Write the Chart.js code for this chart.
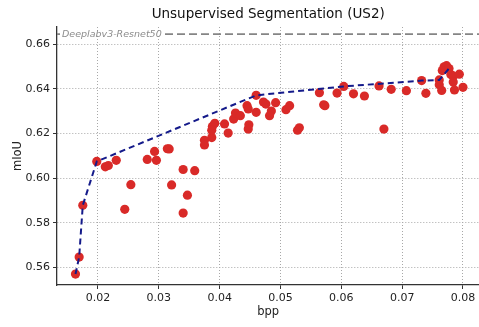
<!DOCTYPE html>
<html>
<head>
<meta charset="utf-8">
<script src="https://cdn.jsdelivr.net/npm/chart.js@4"></script>
<style>
    html, body { margin: 0; padding: 0; background: #fff; overflow: hidden; }
    #wrap { width: 479px; height: 327px; overflow: hidden; }
</style>
</head>
<body>
<!-- холст чуть шире окна: правый край области графика уходит к краю страницы -->
<div id="wrap"><canvas id="segChart" width="484" height="327"></canvas></div>
<script>
// Результаты сжатия: bpp против mIoU
const bpp = [
    0.0163, 0.0169, 0.0175, 0.0198, 0.0212, 0.0217, 0.0230, 0.0254, 0.0244, 0.0281,
    0.0293, 0.0296, 0.0314, 0.0317, 0.0340, 0.0359, 0.0321, 0.0347, 0.0340, 0.0375,
    0.0375, 0.0387, 0.0388, 0.0392, 0.0387, 0.0408, 0.0414, 0.0423, 0.0426, 0.0434,
    0.0445, 0.0447, 0.0448, 0.0447, 0.0460, 0.0460, 0.0472, 0.0476, 0.0485, 0.0482,
    0.0492, 0.0509, 0.0515, 0.0528, 0.0531, 0.0564, 0.0571, 0.0573, 0.0593, 0.0604,
    0.0620, 0.0638, 0.0662, 0.0682, 0.0670, 0.0707, 0.0732, 0.0739, 0.0761, 0.0761,
    0.0765, 0.0769, 0.0773, 0.0766, 0.0777, 0.0780, 0.0784, 0.0794, 0.0784, 0.0786,
    0.0800
];
const miou = [
    0.5571, 0.5647, 0.5879, 0.6075, 0.6051, 0.6057, 0.6080, 0.5971, 0.5861, 0.6084,
    0.6120, 0.6080, 0.6132, 0.6131, 0.6039, 0.6034, 0.5970, 0.5924, 0.5844, 0.6170,
    0.6149, 0.6182, 0.6232, 0.6246, 0.6215, 0.6243, 0.6202, 0.6265, 0.6292, 0.6280,
    0.6325, 0.6310, 0.6239, 0.6220, 0.6371, 0.6295, 0.6341, 0.6332, 0.6301, 0.6280,
    0.6338, 0.6307, 0.6325, 0.6215, 0.6226, 0.6383, 0.6329, 0.6325, 0.6381, 0.6411,
    0.6378, 0.6368, 0.6413, 0.6398, 0.6220, 0.6392, 0.6437, 0.6380, 0.6440, 0.6419,
    0.6393, 0.6499, 0.6504, 0.6482, 0.6491, 0.6464, 0.6457, 0.6466, 0.6431, 0.6395,
    0.6407
];

// Огибающая лучших точек
const frontBpp  = [0.0163, 0.0169, 0.0175, 0.0198, 0.0460, 0.0604, 0.0732, 0.0761, 0.0777];
const frontMiou = [0.5571, 0.5647, 0.5879, 0.6075, 0.6371, 0.6411, 0.6437, 0.6440, 0.6491];

// Базовая модель
const baselineLabel = 'Deeplabv3-Resnet50';
const baselineMiou = 0.6645;

// Оси
const chartTitle = 'Unsupervised Segmentation (US2)';
const xTicks = [0.02, 0.03, 0.04, 0.05, 0.06, 0.07, 0.08];
const yTicks = [0.56, 0.58, 0.60, 0.62, 0.64, 0.66];
const xRange = [0.01326, 0.0827];
const yRange = [0.5522, 0.6677];

const FONT = "'DejaVu Sans', sans-serif";

// Заголовок по центру области графика
const plotTitlePlugin = {
    id: 'plotTitle',
    afterDraw(chart) {
        const { ctx, chartArea } = chart;
        ctx.save();
        ctx.font = "13.5px " + FONT;
        ctx.fillStyle = '#111';
        ctx.textAlign = 'center';
        ctx.textBaseline = 'middle';
        ctx.fillText(chartTitle, (chartArea.left + chartArea.right) / 2, 14);
        ctx.restore();
    }
};

// Подпись базовой линии поверх пунктира
const baselineLabelPlugin = {
    id: 'baselineLabel',
    afterDatasetsDraw(chart) {
        const { ctx, chartArea, scales } = chart;
        const y = scales.y.getPixelForValue(baselineMiou);
        ctx.save();
        ctx.font = "italic 9.5px " + FONT;
        const w = ctx.measureText(baselineLabel).width;
        const x0 = chartArea.left + 5;
        ctx.fillStyle = '#fff';
        ctx.fillRect(x0 - 2, y - 2, w + 5, 4);
        ctx.fillStyle = '#8c8c8c';
        ctx.textBaseline = 'middle';
        ctx.fillText(baselineLabel, x0, y);
        ctx.restore();
    }
};

function setTicks(list) {
    return scale => { scale.ticks = list.map(v => ({ value: v })); };
}

const gridOpts = {
    color: '#a8a8a8',
    lineWidth: 1,
    drawTicks: true,
    tickLength: 4,
    tickColor: '#333',
    tickWidth: 1
};

const ctx = document.getElementById('segChart');

new Chart(ctx, {
    data: {
        datasets: [
            {
                type: 'line',
                data: frontBpp.map((x, i) => ({ x, y: frontMiou[i] })),
                borderColor: '#141a8a',
                borderWidth: 2,
                borderDash: [6, 4],
                pointRadius: 0,
                fill: false,
                tension: 0
            },
            {
                type: 'line',
                data: [{ x: xRange[0], y: baselineMiou }, { x: xRange[1], y: baselineMiou }],
                borderColor: '#858585',
                borderWidth: 1.6,
                borderDash: [8, 4],
                pointRadius: 0,
                fill: false
            },
            {
                type: 'scatter',
                data: bpp.map((x, i) => ({ x, y: miou[i] })),
                backgroundColor: '#d92a28',
                borderWidth: 0,
                pointRadius: 4.6
            }
        ]
    },
    options: {
        responsive: false,
        animation: false,
        layout: { padding: { left: 0, right: 0, top: 27, bottom: 0 } },
        plugins: {
            legend: { display: false },
            tooltip: { enabled: false },
            title: { display: false }
        },
        scales: {
            x: {
                type: 'linear',
                min: xRange[0],
                max: xRange[1],
                afterBuildTicks: setTicks(xTicks),
                afterFit: scale => {
                    scale.height = 42;
                    scale.paddingLeft = 0;
                    scale.paddingRight = 0;
                },
                title: {
                    display: true,
                    text: 'bpp',
                    color: '#222',
                    font: { family: FONT, size: 11.5 },
                    padding: { top: 1, bottom: 8 }
                },
                ticks: {
                    color: '#222',
                    font: { family: FONT, size: 11 },
                    padding: 3,
                    maxRotation: 0,
                    callback: v => v.toFixed(2)
                },
                grid: gridOpts,
                border: { display: true, color: '#333', width: 1.3, dash: [1, 2] }
            },
            y: {
                type: 'linear',
                min: yRange[0],
                max: yRange[1],
                afterBuildTicks: setTicks(yTicks),
                afterFit: scale => {
                    scale.width = 57;
                    scale.paddingTop = 0;
                    scale.paddingBottom = 0;
                },
                title: {
                    display: true,
                    text: 'mIoU',
                    color: '#222',
                    font: { family: FONT, size: 11.5 },
                    padding: { top: 11, bottom: 2 }
                },
                ticks: {
                    color: '#222',
                    font: { family: FONT, size: 11 },
                    padding: 3,
                    callback: v => v.toFixed(2)
                },
                grid: gridOpts,
                border: { display: true, color: '#333', width: 1.3, dash: [1, 2] }
            }
        }
    },
    plugins: [baselineLabelPlugin, plotTitlePlugin]
});
</script>
</body>
</html>
